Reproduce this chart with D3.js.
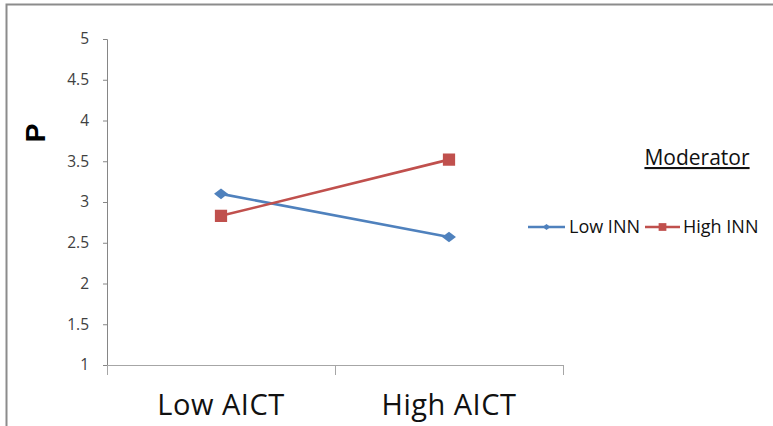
<!DOCTYPE html>
<html><head><meta charset="utf-8">
<script src="https://cdn.jsdelivr.net/npm/d3@7"></script>
<style>body{margin:0;background:#fff}svg{display:block}</style>
</head><body>
<svg id="c" width="773" height="426"></svg>
<script>
const categories = ["Low AICT", "High AICT"];
const seriesNames = ["Low INN", "High INN"];
const lowINN = [3.10, 2.57];
const highINN = [2.83, 3.52];
const yTicks = [1, 1.5, 2, 2.5, 3, 3.5, 4, 4.5, 5];
const colors = ["#4F81BD", "#C0504D"];

const svg = d3.select("#c");
const font = "'Open Sans', 'Liberation Sans', sans-serif";

// outer border
svg.append("rect").attr("x", 6.5).attr("y", 4.5).attr("width", 780).attr("height", 440)
  .attr("fill", "#fff").attr("stroke", "#8c8c8c").attr("stroke-width", 2);

const x = d3.scaleBand().domain(categories).range([107, 563]);
const y = d3.scaleLinear().domain([1, 5]).range([365, 39]);

// y axis
const yAxis = d3.axisLeft(y).tickValues(yTicks).tickSize(4).tickPadding(14)
  .tickFormat(d => String(d));
const gy = svg.append("g").attr("transform", "translate(107,0)").call(yAxis);
gy.select(".domain").attr("stroke", "#868686").attr("d", "M-4,39.5H0.5V375");
gy.selectAll(".tick line").attr("stroke", "#868686");
gy.selectAll(".tick text").attr("fill", "#404040").style("font-family", font).style("font-size", "15.5px");

// x axis
svg.append("line").attr("x1", 107).attr("x2", 563).attr("y1", 365.5).attr("y2", 365.5)
  .attr("stroke", "#a6a6a6").attr("stroke-width", 1.2);
const bounds = [x.range()[0], x(categories[1]), x.range()[1]];
svg.selectAll(".xt").data(bounds).enter().append("line")
  .attr("x1", d => d + 0.5).attr("x2", d => d + 0.5).attr("y1", 365).attr("y2", 375)
  .attr("stroke", "#a6a6a6");
svg.selectAll(".xl").data(categories).enter().append("text")
  .attr("x", d => x(d) + x.bandwidth() / 2).attr("y", 415)
  .attr("text-anchor", "middle").attr("fill", "#111").attr("letter-spacing", "0.5px")
  .style("font-family", font).style("font-size", "29px").text(d => d);

// y label
svg.append("text").attr("transform", "translate(45,133) rotate(-90)")
  .attr("text-anchor", "middle").attr("font-weight", "bold")
  .style("font-family", "'Liberation Sans Narrow', 'Liberation Sans', sans-serif").style("font-size", "28px").text("P");

const series = [lowINN, highINN];
const cx = d => x(d) + x.bandwidth() / 2;
const line = d3.line().x((d, i) => cx(categories[i])).y(d => y(d));
series.forEach((s, k) => {
  svg.append("path").attr("d", line(s)).attr("fill", "none")
    .attr("stroke", colors[k]).attr("stroke-width", 2.6);
});
const square = d3.symbol().type(d3.symbolSquare).size(150);
svg.selectAll(".m0").data(lowINN).enter().append("path")
  .attr("transform", (d, i) => `translate(${cx(categories[i])},${y(d)}) scale(1.25,0.95) rotate(45)`)
  .attr("d", d3.symbol().type(d3.symbolSquare).size(62)).attr("fill", colors[0]);
svg.selectAll(".m1").data(highINN).enter().append("path")
  .attr("transform", (d, i) => `translate(${cx(categories[i])},${y(d)})`)
  .attr("d", square).attr("fill", colors[1]);

// legend
svg.append("text").attr("x", 697).attr("y", 165).attr("text-anchor", "middle")
  .attr("text-decoration", "underline").attr("fill", "#111")
  .style("font-family", font).style("font-size", "21px").text("Moderator");

const leg = [
  {x1: 528, x2: 565, tx: 569, sym: d3.symbol().type(d3.symbolSquare).size(22), rot: "scale(1.2,0.9) rotate(45)"},
  {x1: 645, x2: 680, tx: 683, sym: d3.symbol().type(d3.symbolSquare).size(60), rot: ""}
];
leg.forEach((l, k) => {
  svg.append("line").attr("x1", l.x1).attr("x2", l.x2).attr("y1", 227).attr("y2", 227)
    .attr("stroke", colors[k]).attr("stroke-width", 2.4);
  svg.append("path").attr("transform", `translate(${(l.x1 + l.x2) / 2},227) ${l.rot}`)
    .attr("d", l.sym).attr("fill", colors[k]);
  svg.append("text").attr("x", l.tx).attr("y", 233).attr("fill", "#111")
    .style("font-family", font).style("font-size", "18px").text(seriesNames[k]);
});
</script>
</body></html>
